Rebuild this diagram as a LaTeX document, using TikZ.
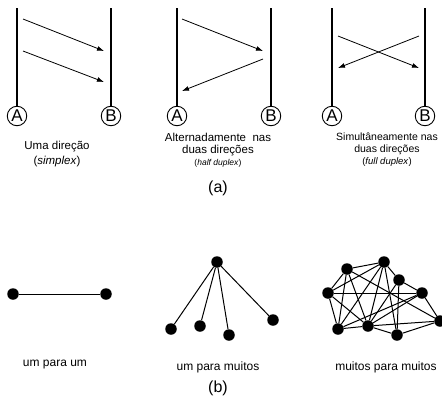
\documentclass[tikz,border=0pt]{standalone}
\usepackage{fontspec}
\setmainfont{Liberation Sans}
\usetikzlibrary{arrows.meta}

\tikzset{
  host/.style={draw, circle, line width=0.9pt, minimum size=19.5pt, inner sep=0pt,
    font=\fontsize{17}{17}\selectfont},
  wire/.style={line width=1.7pt},
  msg/.style={-{Latex[length=7pt,width=5pt]}, line width=0.8pt},
  dot/.style={circle, fill=black, minimum size=11.5pt, inner sep=0pt},
  link/.style={line width=1pt},
  legend/.style={align=center, font=\fontsize{11.5}{12}\selectfont},
  small legend/.style={align=center, font=\fontsize{10.5}{12}\selectfont},
  caption/.style={font=\fontsize{16}{16}\selectfont},
}

\begin{document}
\begin{tikzpicture}[x=1pt, y=-1pt]
\useasboundingbox (0,0) rectangle (442,399);

% === (a) Simplex ===
\node[host] (sA) at (17,116) {A};
\node[host] (sB) at (111,116) {B};
\coordinate (sAt) at (17,8);
\coordinate (sBt) at (111,8);
\draw[wire] (sAt) -- (sA);
\draw[wire] (sBt) -- (sB);
\coordinate (s1) at (23,19);  \coordinate (s2) at (104,51);
\coordinate (s3) at (23,51);  \coordinate (s4) at (104,82);
\draw[msg] (s1) -- (s2);
\draw[msg] (s3) -- (s4);
\node[legend, font=\fontsize{11.5}{15}\selectfont] (sTxt) at (57,154.5)
  {Uma direção\\(\textit{simplex})};

% === (a) Half duplex ===
\node[host] (hA) at (177,116) {A};
\node[host] (hB) at (271,116) {B};
\coordinate (hAt) at (177,8);
\coordinate (hBt) at (271,8);
\draw[wire] (hAt) -- (hA);
\draw[wire] (hBt) -- (hB);
\coordinate (h1) at (182,19);  \coordinate (h2) at (263,51);
\coordinate (h3) at (263,59);  \coordinate (h4) at (182,91);
\draw[msg] (h1) -- (h2);
\draw[msg] (h3) -- (h4);
\node[legend] (hTxt) at (218,150)
  {Alternadamente\ \ nas\\duas direções\\{\fontsize{8.5}{10}\selectfont(\textit{half duplex})}};

% === (a) Full duplex ===
\node[host] (fA) at (332,116) {A};
\node[host] (fB) at (425,116) {B};
\coordinate (fAt) at (332,8);
\coordinate (fBt) at (425,8);
\draw[wire] (fAt) -- (fA);
\draw[wire] (fBt) -- (fB);
\coordinate (f1) at (338,36);  \coordinate (f2) at (419,68);
\coordinate (f3) at (419,36);  \coordinate (f4) at (338,68);
\draw[msg] (f1) -- (f2);
\draw[msg] (f3) -- (f4);
\node[small legend] (fTxt) at (387,149.5)
  {Simultâneamente nas\\duas direções\\{\fontsize{9.5}{10}\selectfont(\textit{full duplex})}};

\node[caption] (capA) at (218,188) {(a)};

% === (b) Um para um ===
\node[dot] (u1) at (13,294) {};
\node[dot] (u2) at (106,294) {};
\draw[link] (u1) -- (u2);
\node[font=\fontsize{12}{12}\selectfont] (uTxt) at (55,365) {um para um};

% === (b) Um para muitos ===
\node[dot] (r) at (217,262) {};
\node[dot] (r1) at (171,329) {};
\node[dot] (r2) at (200,326) {};
\node[dot] (r3) at (229,335) {};
\node[dot] (r4) at (273,320) {};
\foreach \k in {1,...,4}
  \draw[link] (r) -- (r\k);
\node[font=\fontsize{12}{12}\selectfont] (rTxt) at (218,367) {um para muitos};

\node[caption] (capB) at (218,388) {(b)};

% === (b) Muitos para muitos ===
\node[dot] (m1) at (347,269) {};
\node[dot] (m2) at (384,262) {};
\node[dot] (m3) at (399,280) {};
\node[dot] (m4) at (328,293) {};
\node[dot] (m5) at (422,293) {};
\node[dot] (m6) at (440,321) {};
\node[dot] (m7) at (338,329) {};
\node[dot] (m8) at (368,326) {};
\node[dot] (m9) at (397,335) {};
\foreach \a/\b in {1/2, 2/3, 3/5, 5/6, 6/9, 9/8, 8/7, 7/4, 4/1,
                   4/5, 1/7, 1/8, 1/6, 2/4, 2/7, 2/8, 2/9,
                   3/8, 3/9, 4/8, 5/8, 5/7, 8/6}
  \draw[link] (m\a) -- (m\b);
\node[font=\fontsize{12}{12}\selectfont] (mTxt) at (386,367) {muitos para muitos};

\end{tikzpicture}
\end{document}
